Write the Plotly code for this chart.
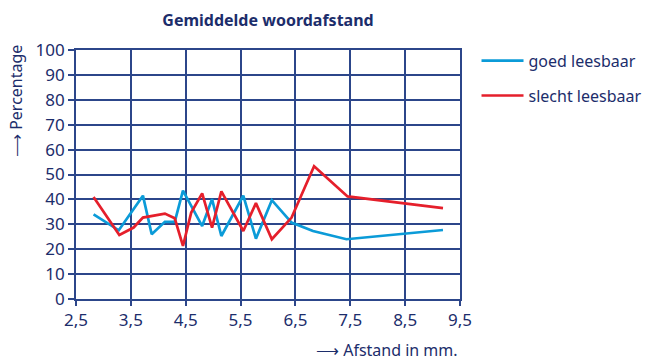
import plotly.graph_objects as go

# Average word spacing (mm) versus percentage, for well and poorly readable texts
goed_x = [2.82, 3.28, 3.72, 3.88, 4.12, 4.30, 4.45, 4.80, 4.98, 5.15, 5.55, 5.78, 6.07, 6.43, 6.82, 7.43, 9.19]
goed_y = [34.0, 27.6, 41.5, 26.0, 31.0, 31.0, 43.5, 29.3, 40.1, 25.3, 41.5, 24.2, 39.7, 30.7, 27.3, 24.0, 27.7]

slecht_x = [2.82, 3.29, 3.55, 3.72, 4.12, 4.30, 4.45, 4.60, 4.80, 4.98, 5.15, 5.55, 5.78, 6.07, 6.43, 6.84, 7.45, 9.19]
slecht_y = [41.0, 25.7, 28.7, 32.7, 34.3, 32.4, 21.3, 34.7, 42.4, 28.7, 43.2, 27.3, 38.5, 24.0, 32.7, 53.3, 41.2, 36.5]

x_ticks = [2.5, 3.5, 4.5, 5.5, 6.5, 7.5, 8.5, 9.5]
x_tick_labels = ["2,5", "3,5", "4,5", "5,5", "6,5", "7,5", "8,5", "9,5"]
y_ticks = [0, 10, 20, 30, 40, 50, 60, 70, 80, 90, 100]

NAVY = "#1c2d6b"
GRID = "#2c468a"
FONT = "Noto Sans"

fig = go.Figure()
fig.add_trace(go.Scatter(x=goed_x, y=goed_y, mode="lines", name="goed leesbaar",
                         legendgroup="a", line=dict(color="#0b9bd8", width=2.7)))
fig.add_trace(go.Scatter(x=slecht_x, y=slecht_y, mode="lines", name="slecht leesbaar",
                         legendgroup="b", line=dict(color="#e51f2b", width=2.7)))

fig.update_layout(
    width=653, height=360,
    margin=dict(l=76, r=193, t=50, b=61, autoexpand=False),
    paper_bgcolor="white", plot_bgcolor="white",
    font=dict(family=FONT, color=NAVY, size=16),
    showlegend=True,
    legend=dict(x=1.043, y=1.025, xanchor="left", yanchor="top",
                font=dict(size=16, color=NAVY), tracegroupgap=11,
                itemwidth=42, bgcolor="rgba(0,0,0,0)"),
    title=dict(text="<b>Gemiddelde woordafstand</b>", x=268 / 653, xanchor="center",
               y=1 - 20 / 360, yanchor="middle", font=dict(size=16, color=NAVY)),
)

fig.update_xaxes(range=[2.5, 9.5], tickvals=x_ticks, ticktext=x_tick_labels,
                 showgrid=True, gridcolor=GRID, gridwidth=1.6,
                 showline=True, linecolor=GRID, linewidth=1.8, mirror=True,
                 ticks="outside", ticklen=5, tickcolor=GRID, tickwidth=1.5, zeroline=False,
                 tickfont=dict(size=17, color=NAVY))
fig.update_yaxes(range=[0, 100], tickvals=y_ticks,
                 showgrid=True, gridcolor=GRID, gridwidth=1.6,
                 showline=True, linecolor=GRID, linewidth=1.8, mirror=True,
                 ticks="outside", ticklen=6, tickcolor=GRID, tickwidth=1.5, zeroline=False,
                 tickfont=dict(size=17, color=NAVY))

fig.add_annotation(text="\u27f6 Percentage", textangle=-90, xref="paper", yref="paper",
                   x=-60 / 384, y=(299 - 101) / 249, xanchor="center", yanchor="middle",
                   showarrow=False, font=dict(size=16, color=NAVY))
fig.add_annotation(text="\u27f6 Afstand in mm.", xref="paper", yref="paper",
                   x=1.0, y=-51 / 249, xanchor="right", yanchor="middle",
                   showarrow=False, font=dict(size=16, color=NAVY))

fig.write_html("out.html")
